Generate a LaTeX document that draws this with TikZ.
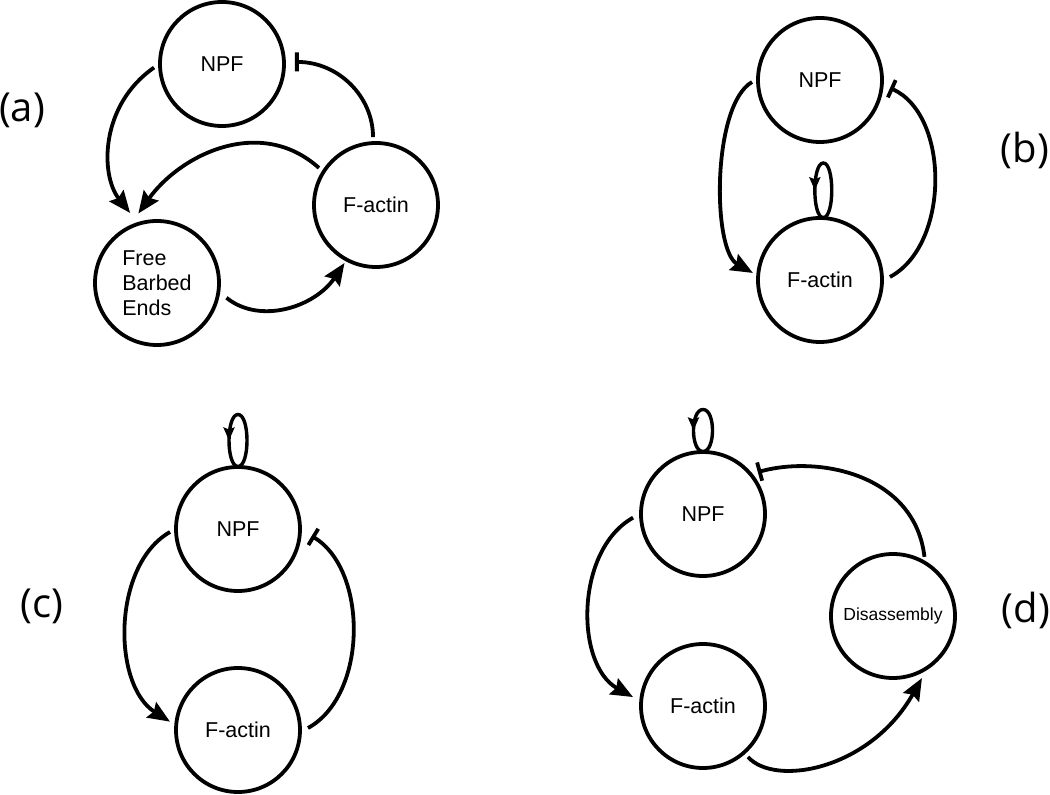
\documentclass[tikz,border=0pt]{standalone}
\usepackage{fontspec}
\setmainfont{Liberation Sans}
\newfontfamily\labfont{Open Sans}
\usetikzlibrary{arrows.meta,calc,decorations.markings}
\begin{document}
\begin{tikzpicture}[x=1pt,y=1pt,
  stnode/.style={circle,draw,line width=3.8pt,minimum size=124pt,inner sep=0pt,outer sep=0pt,font=\fontsize{21.5}{25}\selectfont},
  conn/.style={line width=3.8pt},
  act/.style={conn,-{Stealth[length=22pt,width=18pt,inset=3pt]}},
  inh/.style={conn,-{Bar[width=19pt]}},
  selfloop/.style={line width=3.4pt,postaction={decorate},decoration={markings,mark=at position 0.75 with {\arrow{Stealth[length=13pt,width=11pt,inset=2pt]}}}},
  plabel/.style={font=\labfont\fontsize{40}{46}\selectfont}]
\useasboundingbox (0,0) rectangle (1050,795);
% (a)
\node[plabel] (la) at (22,685) {(a)};
\node[stnode] (npfa) at (222,731) {NPF};
\node[stnode] (facta) at (376,590) {F-actin};
\node[stnode,align=left] (fbe) at (157,512) {Free\\Barbed\\Ends};
\draw[act] ($(npfa.center)+(183:68)$) .. controls (100,690) and (100,620) .. ($(fbe.center)+(111:75)$);
\draw[act] ($(facta.center)+(147:68)$) .. controls (260,680) and (180,640) .. ($(fbe.center)+(105:72)$);
\draw[inh] ($(facta.center)+(92.5:68)$) .. controls (373,699) and (338,733) .. ($(npfa.center)+(1.6:73)$);
\draw[act] ($(fbe.center)+(-12:71)$) .. controls (260,470) and (315,488) .. ($(facta.center)+(241.5:66)$);
% (b)
\node[plabel] (lb) at (1025,645) {(b)};
\node[stnode] (npfb) at (820,715) {NPF};
\node[stnode] (factb) at (820,515) {F-actin};
\draw[act] ($(npfb.center)+(181.7:68)$) .. controls (712,690) and (712,545) .. ($(factb.center)+(174:67.5)$);
\draw[inh] ($(factb.center)+(2.5:70)$) .. controls (950,550) and (950,680) .. ($(npfb.center)+(-6.5:70.5)$);
\draw[selfloop] ($(factb.center)+(87:62.5)$) .. controls (834.6,577.4) and (834.6,632) .. (823.3,632) .. controls (812,632) and (812,577.4) .. ($(factb.center)+(87:62.5)$);
% (c)
\node[plabel] (lc) at (42,189) {(c)};
\node[stnode] (npfc) at (238,266) {NPF};
\node[stnode] (factc) at (238,65) {F-actin};
\draw[act] ($(npfc.center)+(182.5:68)$) .. controls (112,230) and (112,110) .. ($(factc.center)+(173:68.5)$);
\draw[inh] ($(factc.center)+(1.6:70)$) .. controls (368,100) and (368,225) .. ($(npfc.center)+(-5.4:74)$);
\draw[selfloop] ($(npfc.center)+(90:62.5)$) .. controls (250,328.5) and (250,380.5) .. (238,380.5) .. controls (226,380.5) and (226,328.5) .. ($(npfc.center)+(90:62.5)$);
% (d)
\node[plabel] (ld) at (1026,185) {(d)};
\node[stnode] (npfd) at (703,281) {NPF};
\node[stnode] (factd) at (703,89) {F-actin};
\node[stnode,font=\fontsize{17.5}{21}\selectfont] (disd) at (893,179) {Disassembly};
\draw[act] ($(npfd.center)+(183:70)$) .. controls (575,245) and (575,130) .. ($(factd.center)+(172.7:70.6)$);
\draw[act] ($(factd.center)+(-48.6:68)$) .. controls (775,8) and (870,25) .. ($(disd.center)+(-65:68.5)$);
\draw[inh] ($(disd.center)+(62:67)$) .. controls (915,320) and (820,340) .. ($(npfd.center)+(37.4:69)$);
\draw[selfloop] ($(npfd.center)+(90:62.5)$) .. controls (715.7,343.5) and (715.7,385.5) .. (703,385.5) .. controls (690.3,385.5) and (690.3,343.5) .. ($(npfd.center)+(90:62.5)$);
\end{tikzpicture}
\end{document}
